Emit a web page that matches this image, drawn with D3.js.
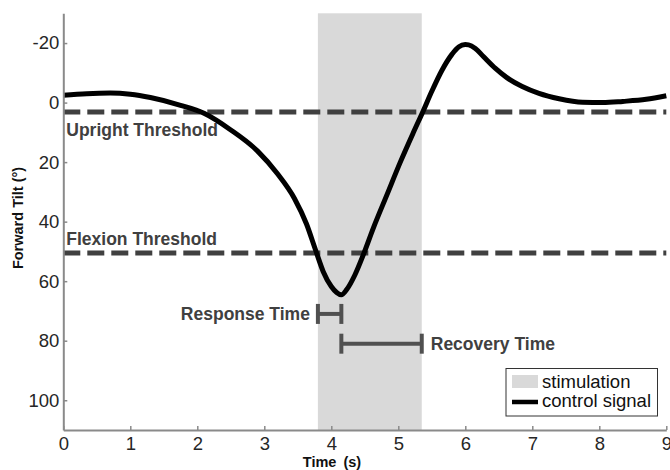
<!DOCTYPE html>
<html>
<head>
<meta charset="utf-8">
<script src="https://cdn.jsdelivr.net/npm/d3@7"></script>
<style>
  html, body { margin: 0; padding: 0; background: #fff; }
  svg { display: block; font-family: "Liberation Sans", Arial, sans-serif; }
</style>
</head>
<body>
<svg id="chart" width="670" height="470"></svg>
<script>
// ---- data ----
const timeS = [0, 0.35, 0.7, 1.0, 1.3, 1.75, 2.1, 2.5, 2.9, 3.2, 3.45, 3.63, 3.76, 3.88, 4.0, 4.08, 4.15, 4.23, 4.35, 4.48, 4.63, 4.83, 5.03, 5.22, 5.37, 5.5, 5.65, 5.8, 5.9, 6.0, 6.05, 6.15, 6.27, 6.45, 6.62, 6.85, 7.1, 7.4, 7.75, 8.05, 8.35, 8.7, 9.0];
const tiltDeg = [-2.5, -3.0, -3.2, -2.8, -1.7, 0.9, 3.6, 9.2, 16.3, 24, 32.2, 40.8, 49.2, 56.8, 61.8, 63.8, 64.6, 62.8, 58, 51, 42, 31, 20, 10.3, 2.9, -3.8, -10.8, -16.2, -18.7, -19.5, -19.4, -18.2, -15.5, -11.5, -8.4, -5.4, -3.1, -1.3, -0.1, 0.0, -0.4, -1.1, -2.3];
const stimulation = [3.8, 5.35];
const thresholdNames = ["Upright Threshold", "Flexion Threshold"];
const thresholdValues = [3.2, 50.5];
const intervalNames = ["Response Time", "Recovery Time"];
const intervalStart = [3.8, 4.15];
const intervalEnd = [4.15, 5.35];
const intervalLevel = [71, 81];
const xTicks = [0, 1, 2, 3, 4, 5, 6, 7, 8, 9];
const yTicks = [-20, 0, 20, 40, 60, 80, 100];
const legendLabels = ["stimulation", "control signal"];

// ---- layout ----
const svg = d3.select("#chart");
const x = d3.scaleLinear().domain([0, 9]).range([63.3, 666.3]);
const y = d3.scaleLinear().domain([-30, 110]).range([13.3, 430]);

const axisColor = "#8a8a8a";
const textDark = "#404040";

// stimulation band
svg.append("rect")
  .attr("x", x(stimulation[0])).attr("y", y(-30))
  .attr("width", x(stimulation[1]) - x(stimulation[0]))
  .attr("height", y(110) - y(-30))
  .attr("fill", "#d9d9d9");

// thresholds
svg.selectAll("line.thr").data(thresholdValues).enter().append("line")
  .attr("class", "thr")
  .attr("x1", x(0)).attr("x2", x(9))
  .attr("y1", d => y(d)).attr("y2", d => y(d))
  .attr("stroke", "#404040").attr("stroke-width", 5)
  .attr("stroke-dasharray", "17,7");

svg.selectAll("text.thr").data(thresholdNames).enter().append("text")
  .attr("class", "thr")
  .attr("x", x(0) + 3)
  .attr("y", (d, i) => y(thresholdValues[i]) + (i === 0 ? 24 : -8))
  .attr("font-size", 17.5).attr("font-weight", "bold")
  .attr("fill", textDark)
  .text(d => d);

// curve
const pts = timeS.map((t, i) => [t, tiltDeg[i]]);
svg.append("path")
  .datum(pts)
  .attr("fill", "none")
  .attr("stroke", "#000")
  .attr("stroke-width", 5)
  .attr("stroke-linejoin", "round")
  .attr("d", d3.line().x(d => x(d[0])).y(d => y(d[1])).curve(d3.curveMonotoneX));

// interval brackets
const capH = 10;
const brColor = "#505050";
intervalNames.forEach((name, i) => {
  const g = svg.append("g");
  const yy = y(intervalLevel[i]);
  g.append("line").attr("x1", x(intervalStart[i])).attr("x2", x(intervalEnd[i]))
    .attr("y1", yy).attr("y2", yy).attr("stroke", brColor).attr("stroke-width", 4);
  [intervalStart[i], intervalEnd[i]].forEach(v => {
    g.append("line").attr("x1", x(v)).attr("x2", x(v))
      .attr("y1", yy - capH).attr("y2", yy + capH)
      .attr("stroke", brColor).attr("stroke-width", 4);
  });
  g.append("text")
    .attr("x", i === 0 ? x(intervalStart[i]) - 8 : x(intervalEnd[i]) + 9)
    .attr("y", yy + 6)
    .attr("text-anchor", i === 0 ? "end" : "start")
    .attr("font-size", 17.5).attr("font-weight", "bold")
    .attr("fill", textDark)
    .text(name);
});

// axes
const fmt = d => String(d);
const xAxis = d3.axisBottom(x).tickValues(xTicks).tickFormat(fmt).tickSize(-4).tickPadding(7).tickSizeOuter(0);
const gx = svg.append("g").attr("transform", `translate(0,${y(110)})`).call(xAxis);
const yAxis = d3.axisLeft(y).tickValues(yTicks).tickFormat(fmt).tickSize(-4).tickPadding(4).tickSizeOuter(0);
const gy = svg.append("g").attr("transform", `translate(${x(0)},0)`).call(yAxis);
[gx, gy].forEach(g => {
  g.select(".domain").attr("stroke", axisColor).attr("stroke-width", 2);
  g.selectAll(".tick line").attr("stroke", axisColor).attr("stroke-width", 1.5);
  g.selectAll(".tick text").attr("font-size", 18.5).attr("fill", "#262626")
    .attr("font-family", "Liberation Sans, Arial, sans-serif");
});

// axis titles
svg.append("text")
  .attr("x", 332).attr("y", 467)
  .attr("text-anchor", "middle")
  .attr("font-size", 14.5).attr("font-weight", "bold").attr("fill", "#111")
  .attr("word-spacing", 3)
  .text("Time (s)");
svg.append("text")
  .attr("transform", "translate(23,218) rotate(-90)")
  .attr("text-anchor", "middle")
  .attr("font-size", 14.5).attr("font-weight", "bold").attr("fill", "#111")
  .text("Forward Tilt (°)");

// legend
const lg = svg.append("g");
lg.append("rect").attr("x", 506).attr("y", 368.5).attr("width", 151.5).attr("height", 47.5)
  .attr("fill", "#fff").attr("stroke", "#333").attr("stroke-width", 1);
lg.append("rect").attr("x", 512).attr("y", 375).attr("width", 26).attr("height", 13).attr("fill", "#d9d9d9");
lg.append("line").attr("x1", 512).attr("x2", 538).attr("y1", 402).attr("y2", 402)
  .attr("stroke", "#000").attr("stroke-width", 4.5);
lg.selectAll("text").data(legendLabels).enter().append("text")
  .attr("x", 542).attr("y", (d, i) => 387.5 + i * 19.5)
  .attr("font-size", 18.5).attr("fill", "#111")
  .text(d => d);
</script>
</body>
</html>
